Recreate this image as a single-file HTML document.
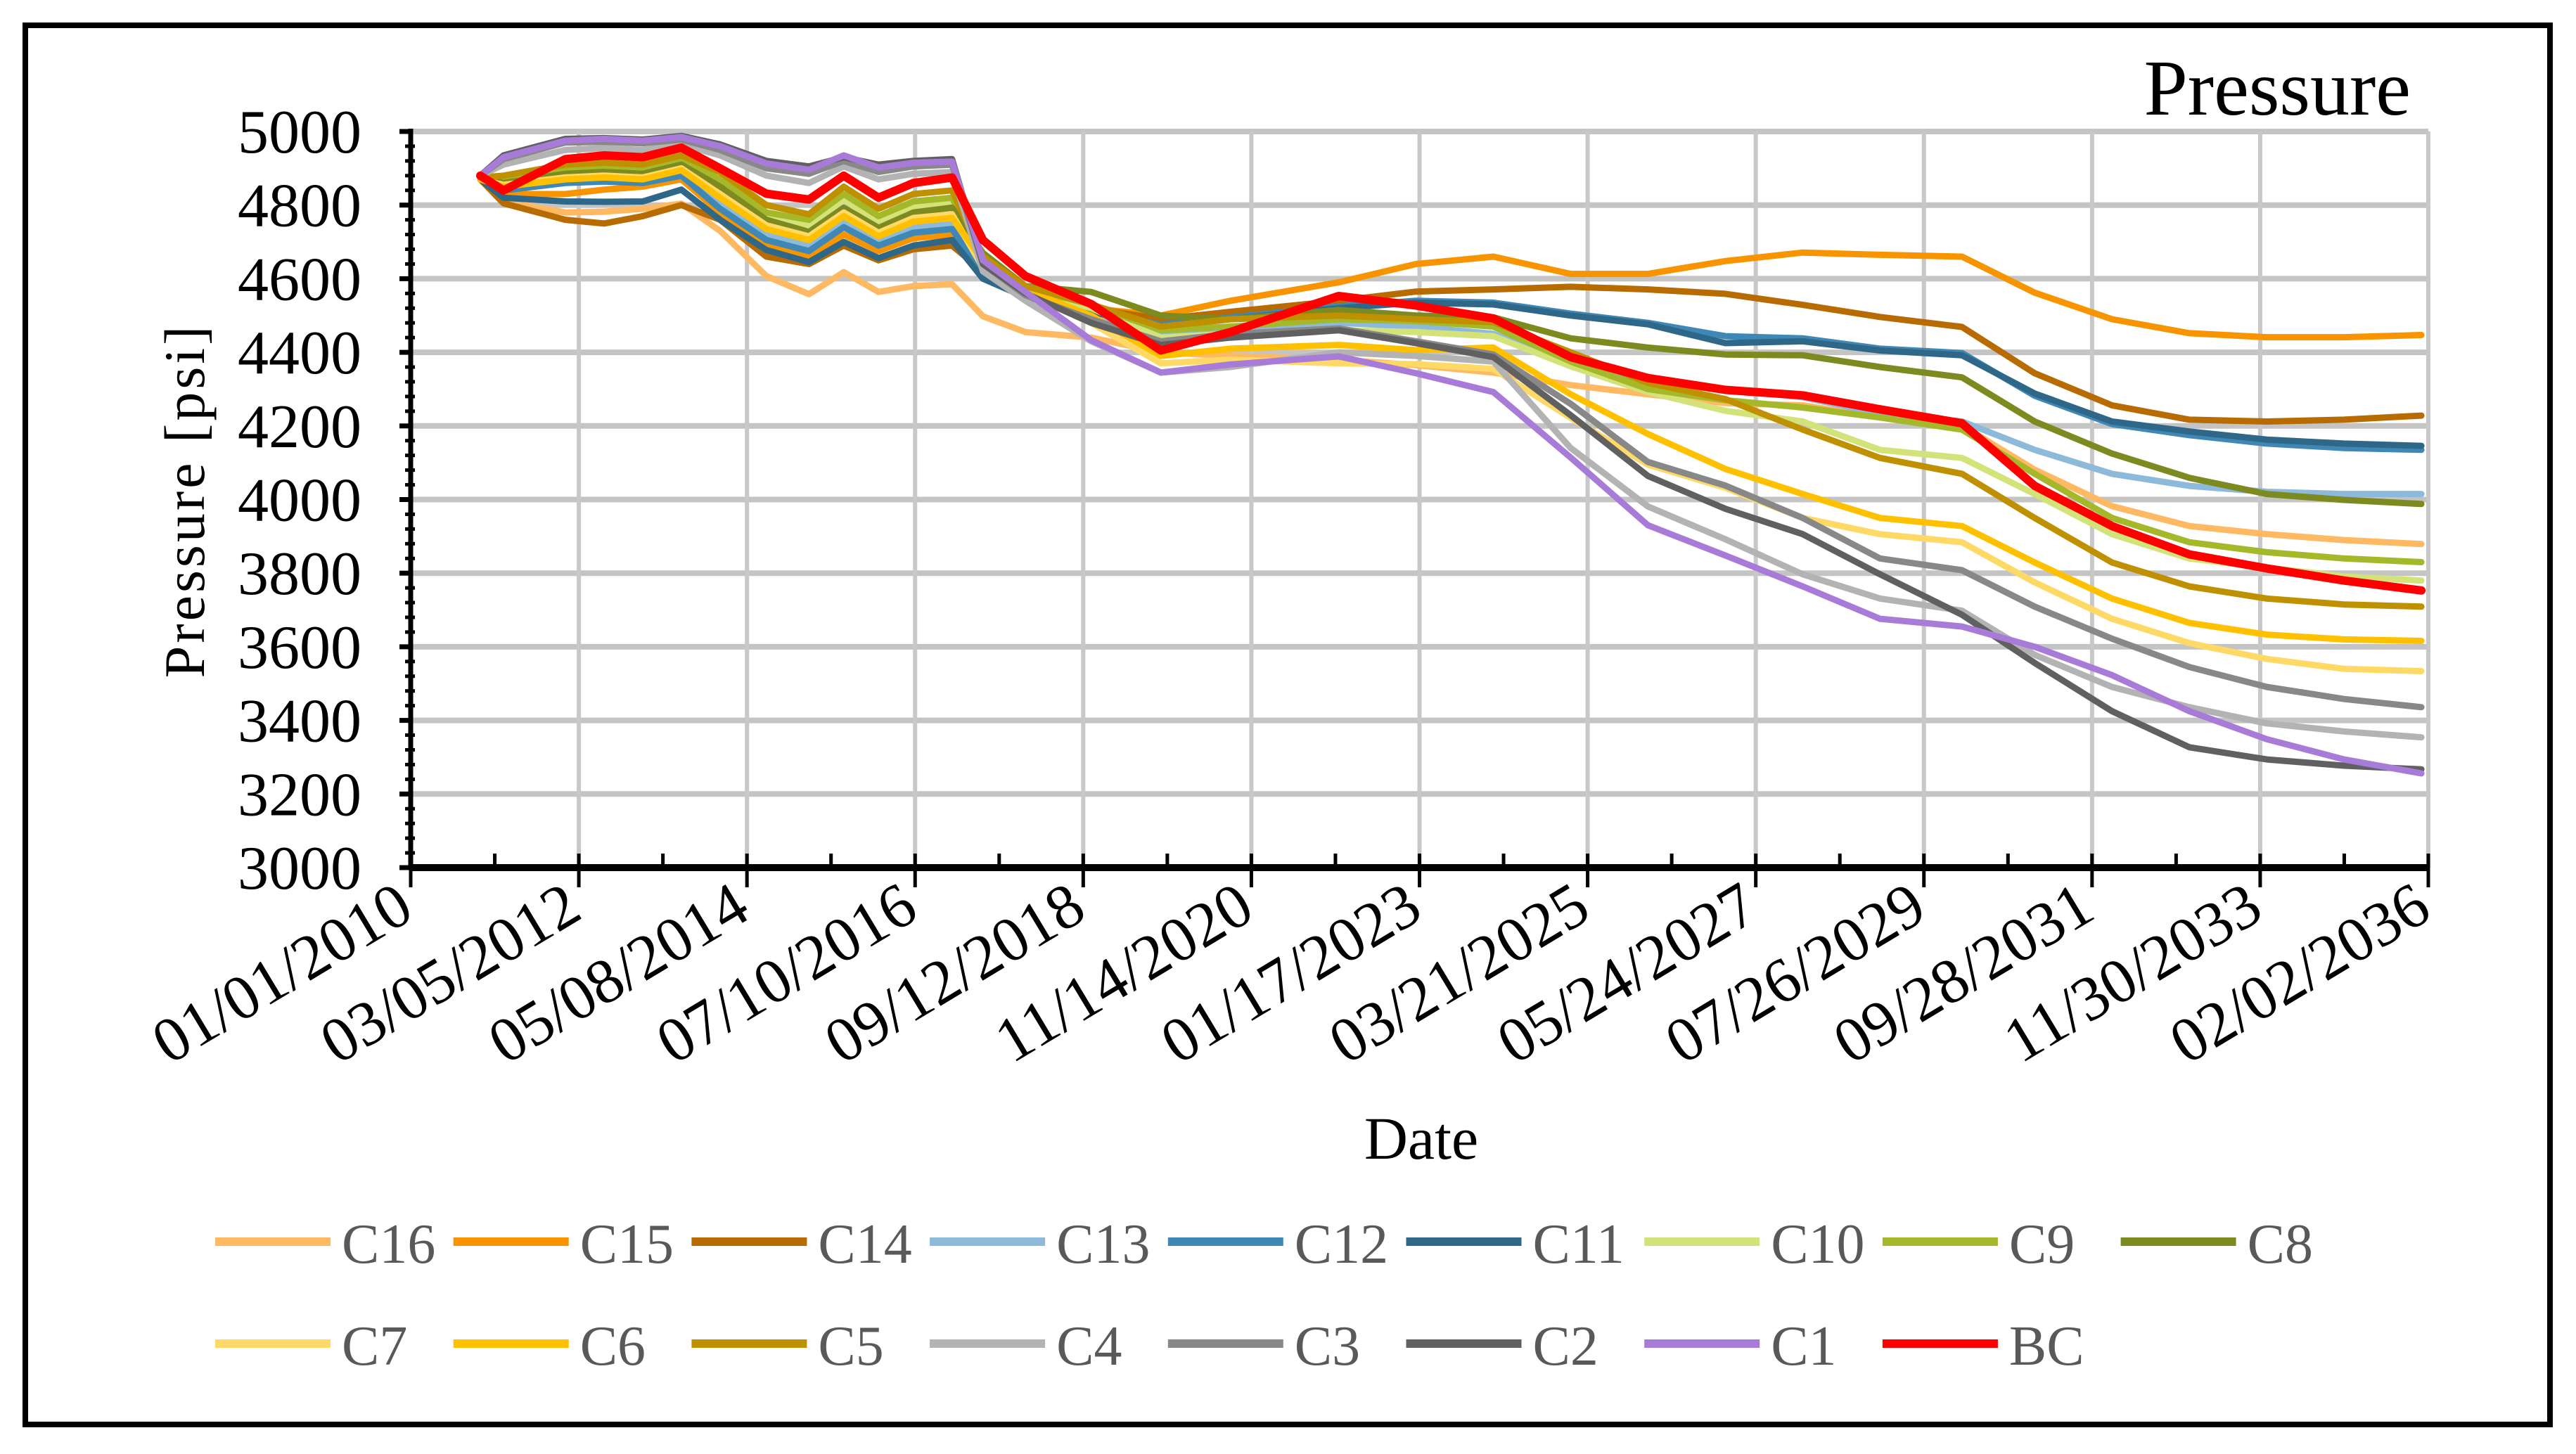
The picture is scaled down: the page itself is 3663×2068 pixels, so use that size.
<!DOCTYPE html>
<html><head><meta charset="utf-8"><style>
html,body{margin:0;padding:0;background:#fff;}
svg{display:block;}
text{font-family:"Liberation Serif",serif;}
</style></head>
<body>
<svg id="chart" width="3663" height="2068" viewBox="0 0 3663 2068" xmlns="http://www.w3.org/2000/svg">
<rect x="36" y="36" width="3590" height="1990" fill="#fff" stroke="#000" stroke-width="8"/>
<text x="3428" y="163" font-size="112" text-anchor="end" fill="#000">Pressure</text>
<g id="grid"></g>
<g id="series"></g>
<g id="axes"></g>
<text transform="translate(290,712) rotate(-90)" font-size="82" text-anchor="middle" letter-spacing="4" fill="#000">Pressure [psi]</text>
<text x="2021" y="1648" font-size="86" text-anchor="middle" fill="#000">Date</text>
<g id="legend"></g>
</svg>
<script>
const yTicks = [3000,3200,3400,3600,3800,4000,4200,4400,4600,4800,5000];
const xTickLabels = ["01/01/2010","03/05/2012","05/08/2014","07/10/2016","09/12/2018","11/14/2020","01/17/2023","03/21/2025","05/24/2027","07/26/2029","09/28/2031","11/30/2033","02/02/2036"];
const times = [2010.9,2011.2,2012.0,2012.5,2013.0,2013.5,2014.0,2014.6,2015.15,2015.6,2016.05,2016.5,2017.0,2017.4,2017.95,2018.8,2019.7,2020.6,2022.0,2023.0,2024.0,2025.0,2026.0,2027.0,2028.0,2029.0,2030.06,2031.0,2032.0,2033.0,2034.0,2035.0,2036.0];
const seriesNames = ["C16","C15","C14","C13","C12","C11","C10","C9","C8","C7","C6","C5","C4","C3","C2","C1","BC"];
const seriesColors = ["#FFB963","#F79400","#B86B00","#8DBADB","#3F88B5","#2E6787","#D4E27A","#A5B829","#7C8A1F","#FFD966","#FFC000","#BF9000","#B3B3B3","#888888","#606060","#A97BD8","#FF0000"];
const C16 = [4870,4810,4780,4782,4790,4804,4730,4607,4558,4618,4564,4580,4585,4498,4455,4440,4400,4390,4380,4365,4345,4311,4286,4262,4256,4223,4201,4081,3982,3928,3906,3890,3879];
const C15 = [4870,4830,4830,4842,4850,4870,4780,4690,4660,4720,4675,4710,4720,4630,4565,4520,4500,4540,4590,4640,4660,4613,4613,4648,4671,4665,4660,4562,4490,4452,4441,4441,4447];
const C14 = [4870,4805,4760,4750,4770,4800,4760,4660,4640,4690,4650,4680,4690,4620,4560,4520,4490,4510,4540,4565,4571,4578,4571,4559,4529,4496,4469,4343,4256,4217,4212,4217,4228];
const C13 = [4870,4845,4865,4870,4865,4885,4800,4720,4690,4755,4700,4740,4750,4620,4560,4500,4450,4460,4480,4470,4450,4368,4325,4300,4278,4234,4212,4135,4070,4037,4021,4015,4015];
const C12 = [4870,4840,4860,4864,4860,4880,4790,4705,4675,4740,4690,4725,4735,4610,4555,4515,4475,4495,4525,4540,4535,4505,4480,4444,4438,4410,4398,4282,4205,4175,4152,4140,4135];
const C11 = [4870,4820,4810,4809,4810,4842,4760,4678,4645,4700,4656,4690,4705,4600,4550,4510,4470,4490,4520,4535,4530,4500,4476,4425,4430,4405,4392,4288,4212,4185,4163,4152,4146];
const C10 = [4875,4865,4890,4895,4890,4915,4860,4770,4745,4815,4755,4795,4805,4655,4570,4520,4440,4450,4460,4455,4444,4362,4292,4241,4212,4135,4113,4015,3906,3840,3815,3791,3780];
const C9 = [4875,4870,4900,4905,4900,4925,4870,4780,4760,4830,4770,4810,4820,4660,4575,4530,4460,4470,4490,4485,4470,4375,4300,4270,4250,4223,4190,4070,3950,3884,3857,3840,3830];
const C8 = [4875,4860,4885,4890,4885,4910,4850,4760,4727,4793,4738,4780,4793,4670,4580,4564,4500,4490,4515,4500,4495,4438,4413,4394,4392,4360,4332,4212,4125,4059,4015,3999,3988];
const C7 = [4870,4855,4875,4880,4875,4900,4830,4745,4715,4780,4725,4765,4775,4630,4560,4480,4370,4380,4370,4368,4355,4222,4095,4032,3950,3906,3884,3775,3676,3610,3567,3540,3534];
const C6 = [4870,4850,4870,4875,4870,4895,4820,4735,4705,4770,4715,4755,4765,4650,4570,4500,4390,4410,4420,4406,4413,4286,4178,4083,4015,3950,3928,3829,3731,3665,3633,3620,3616];
const C5 = [4875,4880,4910,4915,4910,4935,4890,4800,4775,4850,4790,4830,4840,4660,4580,4530,4470,4490,4500,4490,4482,4400,4317,4273,4190,4113,4070,3950,3829,3764,3731,3715,3709];
const C4 = [4880,4910,4950,4955,4950,4965,4935,4880,4860,4905,4870,4885,4890,4620,4540,4430,4345,4360,4400,4390,4375,4140,3981,3892,3797,3731,3698,3578,3491,3436,3392,3370,3354];
const C3 = [4880,4925,4970,4972,4968,4978,4950,4900,4885,4920,4890,4905,4910,4640,4555,4490,4430,4450,4465,4430,4394,4260,4102,4038,3950,3840,3808,3709,3622,3545,3491,3458,3436];
const C2 = [4880,4935,4980,4982,4978,4988,4965,4920,4905,4930,4910,4920,4925,4640,4560,4480,4420,4440,4460,4425,4387,4229,4064,3975,3906,3797,3687,3556,3425,3327,3294,3277,3267];
const C1 = [4880,4930,4975,4980,4975,4985,4960,4913,4896,4935,4902,4915,4918,4650,4564,4433,4345,4367,4389,4343,4292,4114,3930,3848,3764,3676,3655,3600,3523,3425,3349,3294,3256];
const BC = [4880,4840,4925,4935,4930,4956,4900,4831,4815,4880,4820,4860,4875,4705,4607,4531,4405,4455,4553,4527,4492,4387,4330,4298,4283,4245,4207,4037,3928,3851,3813,3780,3753];
const seriesValues = [C16,C15,C14,C13,C12,C11,C10,C9,C8,C7,C6,C5,C4,C3,C2,C1,BC];

const NS = "http://www.w3.org/2000/svg";
const PL = 584, PR = 3453, PT = 187, PB = 1234;
const X0 = 2010.0, X1 = 2036.09, Y0 = 3000, Y1 = 5000;
function xs(t){ return PL + (t - X0) / (X1 - X0) * (PR - PL); }
function ys(v){ return PB - (v - Y0) / (Y1 - Y0) * (PB - PT); }
function mk(tag, attrs, parent){ const e = document.createElementNS(NS, tag); for (const k in attrs) e.setAttribute(k, attrs[k]); parent.appendChild(e); return e; }

const grid = document.getElementById('grid');
const axes = document.getElementById('axes');
const nX = xTickLabels.length - 1;
yTicks.forEach(v => {
  if (v === Y0) return;
  const l = mk('line', {x1: PL, x2: PR, y1: ys(v), y2: ys(v), stroke: '#c4c4c4', 'stroke-width': 8}, grid);
  
  
});
for (let i = 1; i <= nX; i++) {
  const x = PL + i / nX * (PR - PL);
  const l = mk('line', {x1: x, x2: x, y1: PT, y2: PB, stroke: '#c8c8c8', 'stroke-width': 6}, grid);
  
  
}
const sg = document.getElementById('series');
seriesValues.forEach((vals, si) => {
  const d = vals.map((v, i) => (i ? 'L' : 'M') + xs(times[i]).toFixed(1) + ' ' + ys(v).toFixed(1)).join(' ');
  const p = mk('path', {d: d, fill: 'none', stroke: seriesColors[si], 'stroke-width': seriesNames[si] === 'BC' ? 12 : 9, 'stroke-linejoin': 'round', 'stroke-linecap': 'round'}, sg);
  
  
});
const ya = mk('line', {x1: PL, x2: PL, y1: PT - 4, y2: PB, stroke: '#000', 'stroke-width': 7}, axes);


const xa = mk('line', {x1: PL, x2: PR + 2, y1: PB, y2: PB, stroke: '#000', 'stroke-width': 10}, axes);


for (let v = Y0; v <= Y1; v += 40) {
  const major = (v % 200 === 0);
  const t = mk('line', {x1: PL - (major ? 16 : 8), x2: PL + (major ? 0 : 6), y1: ys(v), y2: ys(v), stroke: '#000', 'stroke-width': major ? 7 : 5}, axes);
  
  
}
yTicks.forEach(v => {
  const t = mk('text', {x: 514, y: ys(v) + 30, 'font-size': 88, 'text-anchor': 'end', fill: '#000'}, axes);
  t.textContent = String(v);
  
  
});
for (let i = 0; i <= nX * 2; i++) {
  const x = PL + i / (nX * 2) * (PR - PL);
  const major = i % 2 === 0;
  const t = mk('line', {x1: x, x2: x, y1: PB - 20, y2: major ? PB + 28 : PB, stroke: '#000', 'stroke-width': 5}, axes);
  
  
}
xTickLabels.forEach((lab, i) => {
  const x = PL + i / nX * (PR - PL);
  const t = mk('text', {transform: 'translate(' + (x + 8) + ',' + (PB + 70) + ') rotate(-31)', 'font-size': 90, 'text-anchor': 'end', fill: '#000'}, axes);
  t.textContent = lab;
  
  
});
const lg = document.getElementById('legend');
seriesNames.forEach((n, i) => {
  const row = i < 9 ? 0 : 1, col = i < 9 ? i : i - 9;
  const x = 306 + col * 338.7, y = row ? 1911 : 1766;
  const g = mk('g', {}, lg);
  
  
  mk('line', {x1: x, x2: x + 164, y1: y, y2: y, stroke: seriesColors[i], 'stroke-width': 12}, g);
  const t = mk('text', {x: x + 180, y: y + 30, 'font-size': 80, fill: '#595959'}, g);
  t.textContent = n;
});
</script>
</body></html>
